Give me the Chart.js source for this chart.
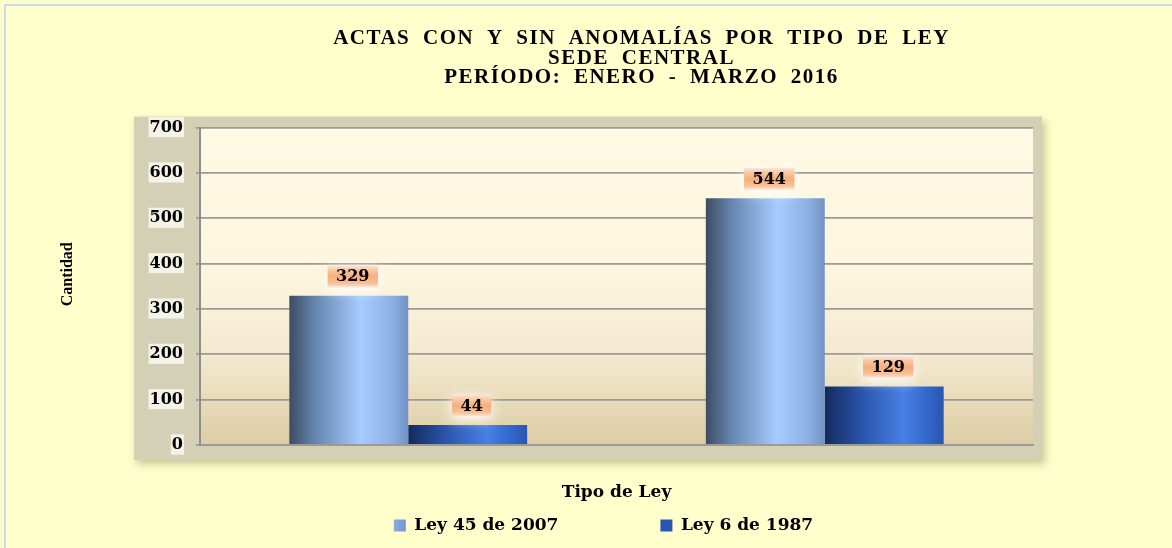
<!DOCTYPE html>
<html>
<head>
<meta charset="utf-8">
<script src="https://cdn.jsdelivr.net/npm/chart.js@4.4.1/dist/chart.umd.min.js"></script>
<style>
  html, body { margin: 0; padding: 0; background: #FFFFCC; overflow: hidden; }
  #frame { position: absolute; left: 4px; top: 4px; width: 1400px; height: 800px;
           border-left: 2px solid #C8DAF0; border-top: 2px solid #C8DAF0; }
  #wrap { position: absolute; left: 0; top: 0; width: 1172px; height: 548px; }
</style>
</head>
<body>
<div id="frame"></div>
<div id="wrap"><canvas id="c" width="1172" height="548"></canvas></div>
<script>
// ---- data ----
const TITLE_LINES = ['ACTAS CON Y SIN ANOMALÍAS POR TIPO DE LEY', 'SEDE CENTRAL', 'PERÍODO: ENERO - MARZO 2016'];
const CATEGORIES = ['Con anomalías', 'Sin anomalías'];
const SERIES_NAMES = ['Ley 45 de 2007', 'Ley 6 de 1987'];
const LEY_45_2007 = [329, 544];
const LEY_6_1987 = [44, 129];
const Y_MIN = 0, Y_MAX = 700, Y_STEP = 100;
const X_TITLE = 'Tipo de Ley';
const Y_TITLE = 'Cantidad';

// ---- style ----
const CAT_PCT = 0.571;
const TITLE_DX = 100;
const LEGEND_DX = 62, LEGEND_PAD = 102;
const YTITLE_DY = -12;
const SERIF = '"DejaVu Serif", serif';
const TIMES = '"Liberation Serif", "Times New Roman", serif';

const STOPS_1 = [[0, '#3D4C62'], [0.22, '#6686B0'], [0.6, '#A6CBFF'], [0.85, '#8FB2E4'], [1, '#7192C4']];
const STOPS_2 = [[0, '#142A5E'], [0.3, '#2A52A8'], [0.66, '#4680E4'], [0.86, '#3567CC'], [1, '#2A55B2']];
const FLAT = ['#8DB3E2', '#3366CC'];

function barGradient(stops, flat) {
  return (c) => {
    const chart = c.chart;
    if (c.type !== 'data' || !chart.chartArea || !chart.scales.x) return flat;
    const xs = chart.scales.x;
    const center = xs.getPixelForValue(c.dataIndex);
    const catW = xs.width / CATEGORIES.length;
    const groupW = catW * CAT_PCT;
    const n = chart.data.datasets.length;
    const barW = groupW / n;
    const left = center - groupW / 2 + c.datasetIndex * barW;
    const g = chart.ctx.createLinearGradient(left, 0, left + barW, 0);
    stops.forEach(s => g.addColorStop(s[0], s[1]));
    return g;
  };
}

const backdropPlugin = {
  id: 'backdrop',
  beforeDraw(chart) {
    const {ctx, chartArea: a} = chart;
    if (!a) return;
    ctx.save();
    ctx.shadowColor = 'rgba(90,90,60,0.35)';
    ctx.shadowBlur = 8;
    ctx.shadowOffsetX = 3;
    ctx.shadowOffsetY = 4;
    ctx.fillStyle = '#D4D0B6';
    ctx.fillRect(a.left - 66, a.top - 11, (a.right + 9) - (a.left - 66), (a.bottom + 15) - (a.top - 11));
    ctx.restore();
    ctx.save();
    const g = ctx.createLinearGradient(0, a.top, 0, a.bottom);
    g.addColorStop(0, '#FFF9E3');
    g.addColorStop(0.45, '#FDF5DE');
    g.addColorStop(0.72, '#F3E9CF');
    g.addColorStop(1, '#DDCDA5');
    ctx.fillStyle = g;
    ctx.fillRect(a.left, a.top, a.right - a.left, a.bottom - a.top);
    ctx.restore();
  }
};

const shiftPlugin = {
  id: 'shifter',
  afterInit(chart) {
    const ctx = chart.ctx;
    const tb = chart.titleBlock;
    if (tb && !tb._wrapped) {
      const orig = tb.draw;
      tb.draw = function () {
        ctx.save();
        ctx.translate(TITLE_DX, 0);
        ctx.letterSpacing = '1.5px';
        ctx.wordSpacing = '6px';
        orig.apply(this, arguments);
        ctx.restore();
      };
      tb._wrapped = true;
    }
    const lg = chart.legend;
    if (lg && !lg._wrapped) {
      const orig2 = lg.draw;
      lg.draw = function () {
        const saved = {left: this.left, right: this.right, top: this.top};
        this.left += LEGEND_DX;
        this.right += LEGEND_DX;
        this.top -= (LEGEND_PAD - 10);
        orig2.apply(this, arguments);
        this.left = saved.left; this.right = saved.right; this.top = saved.top;
      };
      lg._wrapped = true;
    }
  },
  afterLayout(chart) {
    const ys = chart.scales.y;
    if (ys && !ys._wrapped) {
      const orig = ys.drawTitle;
      ys.drawTitle = function () {
        const ctx = this.ctx;
        ctx.save();
        ctx.translate(0, YTITLE_DY);
        orig.apply(this, arguments);
        ctx.restore();
      };
      ys._wrapped = true;
    }
  }
};

const valueBoxPlugin = {
  id: 'valueBoxes',
  afterDatasetsDraw(chart) {
    const ctx = chart.ctx;
    chart.data.datasets.forEach((ds, di) => {
      const meta = chart.getDatasetMeta(di);
      meta.data.forEach((el, i) => {
        const txt = String(ds.data[i]);
        ctx.save();
        ctx.font = 'bold 16px ' + SERIF;
        const tw = ctx.measureText(txt).width;
        const w = tw + 17, h = 22;
        const cx = el.x + 4;
        const y0 = el.y - 8.5 - h;
        const x0 = cx - w / 2;
        const g = ctx.createLinearGradient(0, y0, 0, y0 + h);
        g.addColorStop(0, '#FCE6E6');
        g.addColorStop(0.18, '#F9CDA6');
        g.addColorStop(0.5, '#F6AE7C');
        g.addColorStop(0.82, '#F9C196');
        g.addColorStop(1, '#FCE9E2');
        ctx.shadowColor = 'rgba(255,255,255,1)';
        ctx.shadowBlur = 12;
        ctx.shadowOffsetY = 3;
        ctx.fillStyle = g;
        ctx.fillRect(x0, y0, w, h);
        ctx.shadowColor = 'transparent';
        ctx.shadowBlur = 0;
        ctx.shadowOffsetY = 0;
        ctx.fillStyle = '#000';
        ctx.textAlign = 'center';
        ctx.textBaseline = 'middle';
        ctx.fillText(txt, cx, y0 + h / 2 + 1);
        ctx.restore();
      });
    });
  }
};

Chart.defaults.font.family = SERIF;
Chart.defaults.color = '#000';

new Chart(document.getElementById('c'), {
  type: 'bar',
  data: {
    labels: CATEGORIES,
    datasets: [
      { label: SERIES_NAMES[0], data: LEY_45_2007, backgroundColor: barGradient(STOPS_1, FLAT[0]),
        borderWidth: 0, barPercentage: 1, categoryPercentage: CAT_PCT },
      { label: SERIES_NAMES[1], data: LEY_6_1987, backgroundColor: barGradient(STOPS_2, FLAT[1]),
        borderWidth: 0, barPercentage: 1, categoryPercentage: CAT_PCT }
    ]
  },
  options: {
    responsive: false,
    animation: false,
    devicePixelRatio: 1,
    layout: { padding: { left: 50, right: 139, top: 0, bottom: 5 } },
    plugins: {
      title: {
        display: true,
        text: TITLE_LINES,
        color: '#000',
        font: { family: TIMES, size: 21, weight: 'bold', lineHeight: 0.93 },
        padding: { top: 29, bottom: 40 }
      },
      legend: {
        display: true,
        position: 'bottom',
        maxHeight: 36,
        labels: {
          color: '#000',
          font: { family: SERIF, size: 17, weight: 'bold' },
          boxWidth: 12, boxHeight: 12,
          padding: LEGEND_PAD
        }
      },
      tooltip: { enabled: false }
    },
    scales: {
      x: {
        grid: { display: false },
        border: { display: true, color: '#9A9A9A', width: 2 },
        ticks: { display: false },
        title: {
          display: true, text: X_TITLE, color: '#000',
          font: { family: SERIF, size: 17, weight: 'bold' },
          padding: { top: 0, bottom: 4 }
        },
        afterFit(s) { s.height = 62; }
      },
      y: {
        min: Y_MIN, max: Y_MAX,
        ticks: {
          stepSize: Y_STEP,
          color: '#000',
          font: { family: SERIF, size: 16, weight: 'bold' },
          padding: 13,
          showLabelBackdrop: true,
          backdropColor: 'rgba(246,244,234,0.95)',
          backdropPadding: { top: 1, bottom: 0, left: 1, right: 1 }
        },
        grid: { color: '#9A9A9A', lineWidth: 1.8, tickLength: 4 },
        border: { display: true, color: '#8E8E8E', width: 2 },
        title: {
          display: true, text: Y_TITLE, color: '#000',
          font: { family: TIMES, size: 16, weight: 'bold' },
          padding: { top: 8, bottom: 0 }
        },
        afterFit(s) { s.width = 150; }
      }
    }
  },
  plugins: [backdropPlugin, shiftPlugin, valueBoxPlugin]
});
</script>
</body>
</html>
